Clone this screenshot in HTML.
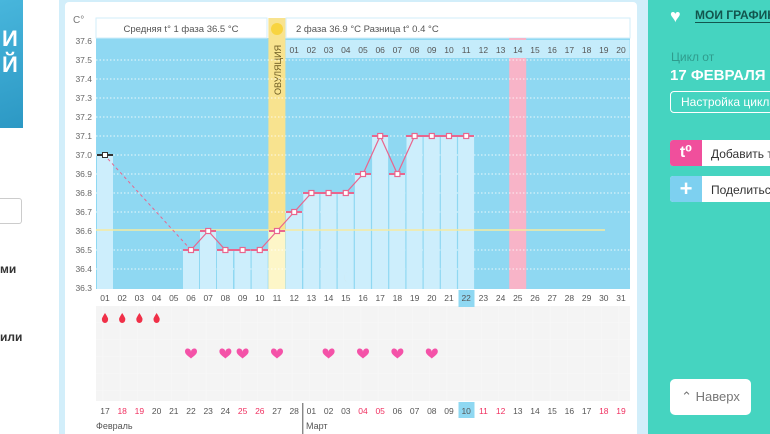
<!DOCTYPE html>
<html><head><meta charset="utf-8"><style>
body{margin:0;width:770px;height:434px;overflow:hidden;background:#fff;font-family:"Liberation Sans","DejaVu Sans",sans-serif;position:relative}
.a{position:absolute}
</style></head><body>
<div class="a" style="left:0;top:0;width:23px;height:128px;background:linear-gradient(160deg,#48b6dc,#2c98c4)"></div>
<div class="a" style="left:2px;top:26px;color:#fff;font-weight:bold;font-size:22px;line-height:26px">И<br>Й</div>
<div class="a" style="left:0;top:198px;width:21px;height:24px;border:1px solid #ccc;border-left:none;border-radius:0 3px 3px 0"></div>
<div class="a" style="left:0;top:262px;font-size:12px;font-weight:bold;color:#333">ми</div>
<div class="a" style="left:0;top:330px;font-size:12px;font-weight:bold;color:#333">или</div>
<div class="a" style="left:59px;top:0;width:589px;height:434px;background:#d2eefa"></div>
<div class="a" style="left:65px;top:2px;width:572px;height:432px;background:#fff;border-radius:4px 4px 0 0"></div>
<div class="a" style="left:648px;top:0;width:122px;height:434px;background:#45d4c0"></div>
<div class="a" style="left:640px;top:47px;width:0;height:0;border-top:7px solid transparent;border-bottom:7px solid transparent;border-left:8px solid #d2eefa"></div>
<div class="a" style="left:670px;top:6px;color:#fff;font-size:18px">♥</div>
<div class="a" style="left:695px;top:8px;color:#12564e;font-size:12px;font-weight:bold;white-space:nowrap;border-bottom:1px solid #12564e">МОИ ГРАФИКИ</div>
<div class="a" style="left:671px;top:50px;color:#2f9c8d;font-size:12px">Цикл от</div>
<div class="a" style="left:670px;top:67px;color:#fff;font-size:15px;font-weight:bold;white-space:nowrap">17 ФЕВРАЛЯ 2</div>
<div class="a" style="left:670px;top:91px;width:110px;height:20px;border:1px solid #fff;border-radius:4px;color:#fff;font-size:12px;line-height:20px;padding-left:10px;white-space:nowrap">Настройка цикла</div>
<div class="a" style="left:670px;top:140px;width:100px;height:26px;background:#fff;border-radius:3px 0 0 3px"></div>
<div class="a" style="left:670px;top:140px;width:32px;height:26px;background:#f04f9c;border-radius:3px 0 0 3px;color:#fff;font-weight:bold;font-size:16px;text-align:center;line-height:26px">t⁰</div>
<div class="a" style="left:711px;top:147px;font-size:12px;color:#333;white-space:nowrap">Добавить т</div>
<div class="a" style="left:670px;top:176px;width:100px;height:26px;background:#fff;border-radius:3px 0 0 3px"></div>
<div class="a" style="left:670px;top:176px;width:32px;height:26px;background:#7dd0f0;border-radius:3px 0 0 3px;color:#fff;font-weight:bold;font-size:22px;text-align:center;line-height:26px">+</div>
<div class="a" style="left:711px;top:183px;font-size:12px;color:#333;white-space:nowrap">Поделитьс</div>
<div class="a" style="left:670px;top:379px;width:81px;height:36px;background:#fff;border-radius:5px;color:#777;font-size:13px;line-height:36px;text-align:center">⌃ Наверх</div>

<svg class="a" style="left:0;top:0" width="770" height="434" font-family="Liberation Sans, DejaVu Sans, sans-serif">
<defs>
<pattern id="p" width="17.2" height="17" patternUnits="userSpaceOnUse"><rect width="17.2" height="17" fill="#f8f8f8"/><rect width="16.5" height="16.5" fill="#f4f4f4"/></pattern>
<path id="h" d="M0,3 C0,-1 -6,-2 -6,2.5 C-6,5.5 -2,7.5 0,9.5 C2,7.5 6,5.5 6,2.5 C6,-2 0,-1 0,3Z"/>
</defs>
<text x="73" y="23" font-size="10" fill="#777">C°</text>
<g font-size="8.5" fill="#666" text-anchor="end">
<text x="92" y="44">37.6</text><text x="92" y="63">37.5</text><text x="92" y="82">37.4</text><text x="92" y="101">37.3</text><text x="92" y="120">37.2</text><text x="92" y="139">37.1</text><text x="92" y="158">37.0</text><text x="92" y="177">36.9</text><text x="92" y="196">36.8</text><text x="92" y="215">36.7</text><text x="92" y="234">36.6</text><text x="92" y="253">36.5</text><text x="92" y="272">36.4</text><text x="92" y="291">36.3</text>
</g>
<rect x="96" y="38" width="534" height="251" fill="#8fd8f2"/>
<rect x="96" y="18" width="171" height="20" fill="#fff" stroke="#d2eefa"/>
<text x="181" y="32" font-size="9.5" fill="#555" text-anchor="middle">Средняя t° 1 фаза 36.5 °C</text>
<rect x="286" y="18" width="344" height="20" fill="#fff" stroke="#d2eefa"/>
<text x="296" y="32" font-size="9.5" fill="#555">2 фаза 36.9 °C    Разница t° 0.4 °C</text>
<rect x="268.4" y="18" width="17" height="271" fill="#f8e38f"/>
<rect x="268.4" y="231" width="17" height="58" fill="#fdf6c8"/>
<circle cx="277" cy="29" r="6" fill="#f8d440"/>
<text transform="translate(281,95) rotate(-90)" font-size="9" fill="#6b5a20">ОВУЛЯЦИЯ</text>
<rect x="509.2" y="38" width="17" height="251" fill="#f8b4c8"/>
<rect x="285.6" y="40" width="344" height="18" fill="#c5ecfb"/>
<g stroke="#fff" stroke-width="1" stroke-dasharray="1.5,2" opacity="0.8">
<line x1="96" y1="60" x2="630" y2="60"/><line x1="96" y1="79" x2="630" y2="79"/><line x1="96" y1="98" x2="630" y2="98"/><line x1="96" y1="117" x2="630" y2="117"/><line x1="96" y1="136" x2="630" y2="136"/><line x1="96" y1="155" x2="630" y2="155"/><line x1="96" y1="174" x2="630" y2="174"/><line x1="96" y1="193" x2="630" y2="193"/><line x1="96" y1="212" x2="630" y2="212"/><line x1="96" y1="250" x2="630" y2="250"/><line x1="96" y1="269" x2="630" y2="269"/>
</g>
<g fill="#cdeefc">
<rect x="97" y="155" width="16" height="134"/>
<rect x="183" y="250" width="16" height="39"/><rect x="200" y="231" width="16" height="58"/><rect x="217" y="250" width="16" height="39"/><rect x="234.5" y="250" width="16" height="39"/><rect x="251.7" y="250" width="16" height="39"/>
<rect x="286" y="212" width="16" height="77"/><rect x="303.3" y="193" width="16" height="96"/><rect x="320.5" y="193" width="16" height="96"/><rect x="337.7" y="193" width="16" height="96"/><rect x="354.9" y="174" width="16" height="115"/><rect x="372.1" y="136" width="16" height="153"/><rect x="389.3" y="174" width="16" height="115"/><rect x="406.5" y="136" width="16" height="153"/><rect x="423.7" y="136" width="16" height="153"/><rect x="440.9" y="136" width="16" height="153"/><rect x="458.1" y="136" width="16" height="153"/>
</g>
<line x1="96" y1="230" x2="605" y2="230" stroke="#f6eaa0" stroke-width="1.5"/>
<g font-size="8.5" fill="#555" text-anchor="middle">
<text x="294.2" y="53">01</text><text x="311.4" y="53">02</text><text x="328.6" y="53">03</text><text x="345.8" y="53">04</text><text x="363" y="53">05</text><text x="380.2" y="53">06</text><text x="397.4" y="53">07</text><text x="414.6" y="53">08</text><text x="431.8" y="53">09</text><text x="449" y="53">10</text><text x="466.2" y="53">11</text><text x="483.4" y="53">12</text><text x="500.6" y="53">13</text><text x="517.8" y="53">14</text><text x="535" y="53">15</text><text x="552.2" y="53">16</text><text x="569.4" y="53">17</text><text x="586.6" y="53">18</text><text x="603.8" y="53">19</text><text x="621" y="53">20</text>
</g>
<line x1="108" y1="159" x2="191" y2="250" stroke="#e9668e" stroke-dasharray="3,3"/>
<polyline fill="none" stroke="#e9668e" stroke-width="1.2" points="191,250 208.2,231 225.4,250 242.6,250 259.8,250 277,231 294.2,212 311.4,193 328.6,193 345.8,193 363,174 380.2,136 397.4,174 414.6,136 431.8,136 449,136 466.2,136"/>
<g stroke="#e9668e" stroke-width="2">
<line x1="183" y1="250" x2="199" y2="250"/><line x1="200" y1="231" x2="216" y2="231"/><line x1="217" y1="250" x2="250" y2="250"/><line x1="251" y1="250" x2="268" y2="250"/><line x1="269" y1="231" x2="285" y2="231"/><line x1="286" y1="212" x2="302" y2="212"/><line x1="303" y1="193" x2="354" y2="193"/><line x1="355" y1="174" x2="371" y2="174"/><line x1="372" y1="136" x2="388" y2="136"/><line x1="389" y1="174" x2="405" y2="174"/><line x1="406" y1="136" x2="474" y2="136"/>
</g>
<line x1="97" y1="155" x2="113" y2="155" stroke="#333" stroke-width="2"/>
<rect x="102.5" y="152.5" width="5" height="5" fill="#fff" stroke="#333"/>
<g fill="#fff" stroke="#e9668e" stroke-width="1.2">
<rect x="188.5" y="247.5" width="5" height="5"/><rect x="205.7" y="228.5" width="5" height="5"/><rect x="222.9" y="247.5" width="5" height="5"/><rect x="240.1" y="247.5" width="5" height="5"/><rect x="257.3" y="247.5" width="5" height="5"/><rect x="274.5" y="228.5" width="5" height="5"/><rect x="291.7" y="209.5" width="5" height="5"/><rect x="308.9" y="190.5" width="5" height="5"/><rect x="326.1" y="190.5" width="5" height="5"/><rect x="343.3" y="190.5" width="5" height="5"/><rect x="360.5" y="171.5" width="5" height="5"/><rect x="377.7" y="133.5" width="5" height="5"/><rect x="394.9" y="171.5" width="5" height="5"/><rect x="412.1" y="133.5" width="5" height="5"/><rect x="429.3" y="133.5" width="5" height="5"/><rect x="446.5" y="133.5" width="5" height="5"/><rect x="463.7" y="133.5" width="5" height="5"/>
</g>
<path d="M348,271 A6.5,6.5 0 1 0 354,283 A5.5,5.5 0 0 1 348,271Z" fill="#f0920f"/>
<rect x="96" y="306" width="534" height="95" fill="url(#p)"/>
<rect x="458.5" y="290" width="16" height="17" fill="#8fd8f2"/>
<rect x="458.5" y="402" width="16" height="16" fill="#8fd8f2"/>
<g font-size="8.5" fill="#555" text-anchor="middle">
<text x="105" y="301">01</text><text x="122.2" y="301">02</text><text x="139.4" y="301">03</text><text x="156.6" y="301">04</text><text x="173.8" y="301">05</text><text x="191" y="301">06</text><text x="208.2" y="301">07</text><text x="225.4" y="301">08</text><text x="242.6" y="301">09</text><text x="259.8" y="301">10</text><text x="277" y="301">11</text><text x="294.2" y="301">12</text><text x="311.4" y="301">13</text><text x="328.6" y="301">14</text><text x="345.8" y="301">15</text><text x="363" y="301">16</text><text x="380.2" y="301">17</text><text x="397.4" y="301">18</text><text x="414.6" y="301">19</text><text x="431.8" y="301">20</text><text x="449" y="301">21</text><text x="466.2" y="301">22</text><text x="483.4" y="301">23</text><text x="500.6" y="301">24</text><text x="517.8" y="301">25</text><text x="535" y="301">26</text><text x="552.2" y="301">27</text><text x="569.4" y="301">28</text><text x="586.6" y="301">29</text><text x="603.8" y="301">30</text><text x="621" y="301">31</text>
</g>
<g font-size="8.5" fill="#555" text-anchor="middle">
<text x="105" y="414">17</text><text x="122.2" y="414" fill="#f03060">18</text><text x="139.4" y="414" fill="#f03060">19</text><text x="156.6" y="414">20</text><text x="173.8" y="414">21</text><text x="191" y="414">22</text><text x="208.2" y="414">23</text><text x="225.4" y="414">24</text><text x="242.6" y="414" fill="#f03060">25</text><text x="259.8" y="414" fill="#f03060">26</text><text x="277" y="414">27</text><text x="294.2" y="414">28</text><text x="311.4" y="414">01</text><text x="328.6" y="414">02</text><text x="345.8" y="414">03</text><text x="363" y="414" fill="#f03060">04</text><text x="380.2" y="414" fill="#f03060">05</text><text x="397.4" y="414">06</text><text x="414.6" y="414">07</text><text x="431.8" y="414">08</text><text x="449" y="414">09</text><text x="466.2" y="414">10</text><text x="483.4" y="414" fill="#f03060">11</text><text x="500.6" y="414" fill="#f03060">12</text><text x="517.8" y="414">13</text><text x="535" y="414">14</text><text x="552.2" y="414">15</text><text x="569.4" y="414">16</text><text x="586.6" y="414">17</text><text x="603.8" y="414" fill="#f03060">18</text><text x="621" y="414" fill="#f03060">19</text>
</g>
<line x1="302.8" y1="403" x2="302.8" y2="434" stroke="#555"/>
<text x="96" y="429" font-size="9" fill="#555">Февраль</text>
<text x="306" y="429" font-size="9" fill="#555">Март</text>
<g fill="#f03048">
<path d="M105,313 Q101,319 102,320 A3,3 0 0 0 108,320 Q109,319 105,313Z"/>
<path d="M122.2,313 Q118.2,319 119.2,320 A3,3 0 0 0 125.2,320 Q126.2,319 122.2,313Z"/>
<path d="M139.4,313 Q135.4,319 136.4,320 A3,3 0 0 0 142.4,320 Q143.4,319 139.4,313Z"/>
<path d="M156.6,313 Q152.6,319 153.6,320 A3,3 0 0 0 159.6,320 Q160.6,319 156.6,313Z"/>
</g>
<g fill="#f452a8">
<use href="#h" x="191" y="349"/><use href="#h" x="225.4" y="349"/><use href="#h" x="242.6" y="349"/><use href="#h" x="277" y="349"/><use href="#h" x="328.6" y="349"/><use href="#h" x="363" y="349"/><use href="#h" x="397.4" y="349"/><use href="#h" x="431.8" y="349"/>
</g>
</svg>
</body></html>
